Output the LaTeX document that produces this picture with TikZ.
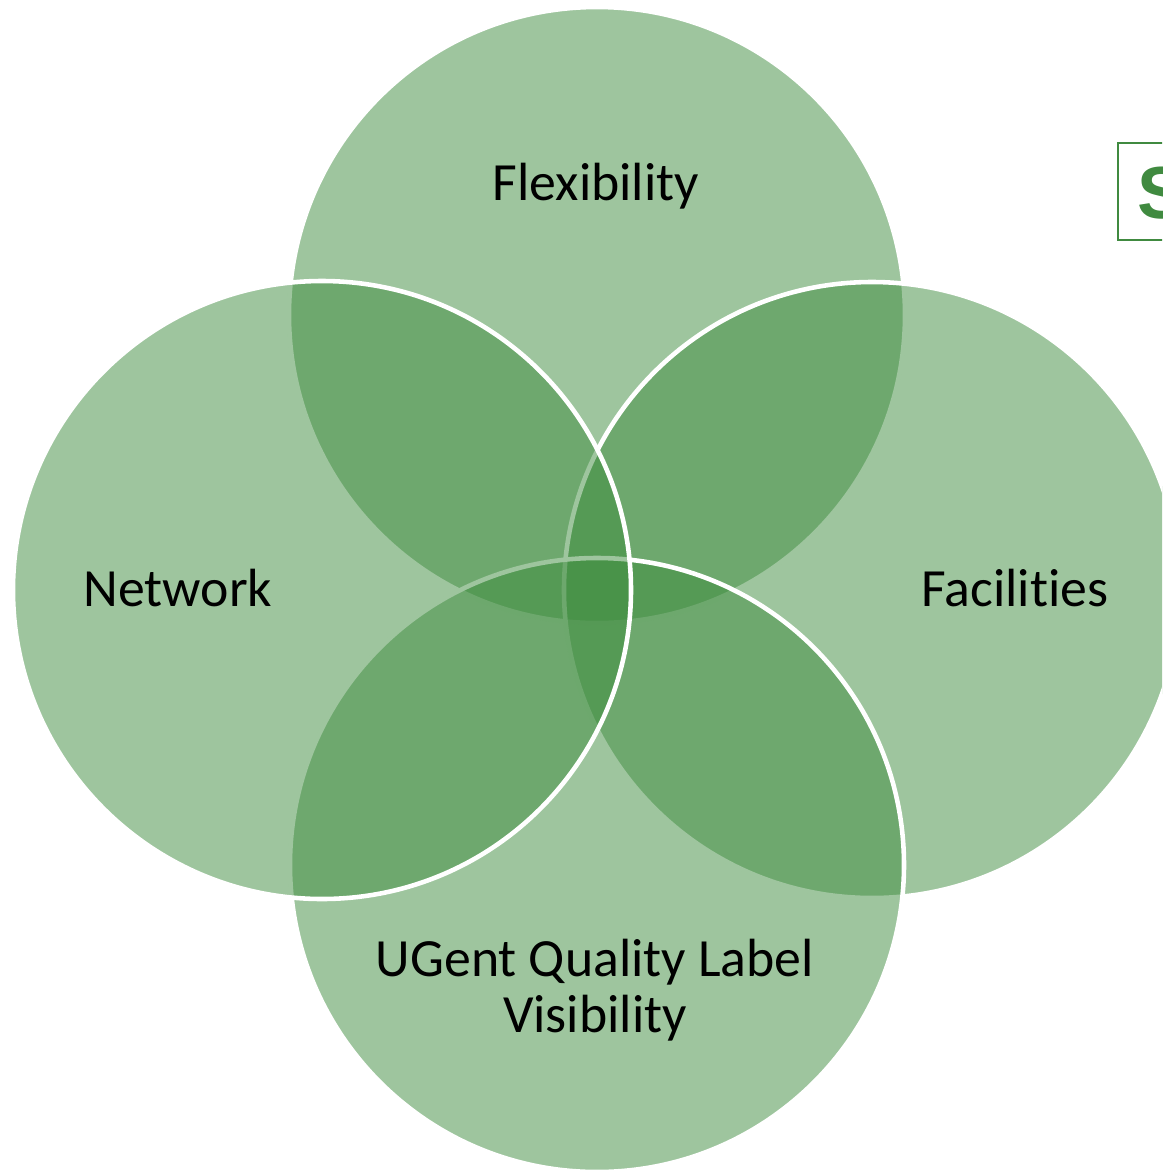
\documentclass[tikz,border=0pt]{standalone}
\usepackage{fontspec}
\setmainfont{Carlito}[Ligatures=NoCommon]
\newfontfamily\headfont{Liberation Sans}
\usetikzlibrary{positioning}
\definecolor{venngreen}{RGB}{62,140,62}
\definecolor{boxgreen}{RGB}{64,138,64}
\tikzset{
	venn/.style={fill=venngreen, fill opacity=0.5, draw=white, draw opacity=1, line width=1.3pt},
	vennlabel/.style={text=black, align=center, font=\fontsize{15.3}{15.8}\selectfont}
}

\begin{document}
\begin{tikzpicture}
			%%%%% START %%%%%
			
			\useasboundingbox (0, 0) rectangle (11.62, -11.71);
			\clip (0, 0) rectangle (11.62, -11.71);
			
			% circles: top, right, bottom, left
			\draw[venn] (5.97, -3.15) circle (3.08);
			\draw[venn] (8.72, -5.90) circle (3.08);
			\draw[venn] (5.97, -8.65) circle (3.07);
			\draw[venn] (3.22, -5.90) circle (3.09);
			
			\node[vennlabel] (flex) at (5.96, -1.86) {Flexibility};
			\node[vennlabel] (net) at (1.78, -5.88) {Network};
			\node[vennlabel] (fac) at (10.15, -5.88) {Facilities};
			\node[vennlabel] (vis) at (5.95, -9.90) {UGent Quality Label\\Visibility};
			
			% cut-off title box
			\draw[boxgreen, line width=0.6pt] (11.18, -1.43) rectangle (12.2, -2.40);
			\node[anchor=west, inner sep=0, text=boxgreen, font=\headfont\bfseries\fontsize{21}{24}\selectfont] (title) at (11.37, -1.93) {S};
			
			%%%%% END %%%%%
\end{tikzpicture}
\end{document}
